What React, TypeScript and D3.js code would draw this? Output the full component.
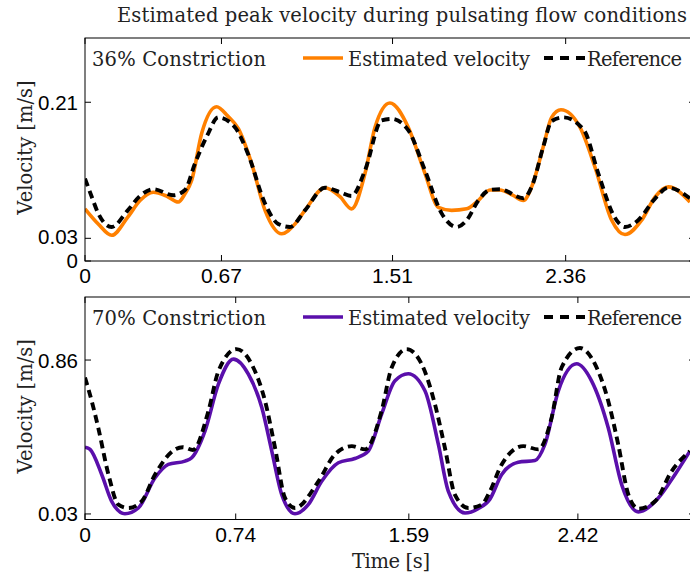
import React from "react";
import * as d3 from "d3";

// ---------- data ----------
const topTitle = "Estimated peak velocity during pulsating flow conditions";
const topLabel = "36% Constriction";
const bottomLabel = "70% Constriction";
const legendEstimated = "Estimated velocity";
const legendReference = "Reference";
const yAxisLabel = "Velocity [m/s]";
const xAxisLabel = "Time [s]";

const topXTicks = [0, 0.67, 1.51, 2.36];
const topYTicks = [0, 0.03, 0.21];
const bottomXTicks = [0, 0.74, 1.59, 2.42];
const bottomYTicks = [0.03, 0.86];

// 36% constriction
const topEstT = [0, 0.065, 0.131, 0.21, 0.27, 0.335, 0.4, 0.458, 0.491, 0.524, 0.573, 0.646, 0.7, 0.753, 0.818, 0.884, 0.966, 1.031, 1.08, 1.178, 1.252, 1.309, 1.375, 1.424, 1.497, 1.587, 1.669, 1.735, 1.8, 1.874, 1.931, 1.988, 2.037, 2.1, 2.152, 2.193, 2.25, 2.291, 2.337, 2.43, 2.504, 2.586, 2.651, 2.733, 2.8, 2.864, 2.97];
const topEstV = [0.069, 0.049, 0.034, 0.058, 0.08, 0.091, 0.086, 0.078, 0.089, 0.107, 0.169, 0.204, 0.192, 0.175, 0.129, 0.067, 0.036, 0.049, 0.067, 0.097, 0.085, 0.069, 0.116, 0.177, 0.209, 0.177, 0.116, 0.071, 0.067, 0.069, 0.08, 0.094, 0.094, 0.087, 0.08, 0.098, 0.151, 0.19, 0.2, 0.177, 0.124, 0.054, 0.035, 0.054, 0.085, 0.098, 0.078];
const topRefT = [0, 0.033, 0.065, 0.131, 0.21, 0.27, 0.335, 0.434, 0.491, 0.54, 0.6, 0.654, 0.736, 0.8, 0.884, 0.949, 1.006, 1.08, 1.178, 1.252, 1.309, 1.375, 1.456, 1.506, 1.587, 1.669, 1.751, 1.825, 1.874, 1.931, 1.988, 2.037, 2.152, 2.193, 2.25, 2.291, 2.348, 2.45, 2.52, 2.6, 2.651, 2.716, 2.8, 2.864, 2.97];
const topRefV = [0.109, 0.085, 0.063, 0.045, 0.067, 0.086, 0.095, 0.087, 0.094, 0.129, 0.166, 0.19, 0.177, 0.142, 0.076, 0.049, 0.045, 0.067, 0.097, 0.091, 0.086, 0.12, 0.186, 0.188, 0.173, 0.12, 0.063, 0.045, 0.054, 0.08, 0.094, 0.095, 0.083, 0.098, 0.151, 0.185, 0.19, 0.173, 0.116, 0.058, 0.045, 0.054, 0.083, 0.097, 0.083];

// 70% constriction
const botEstT = [0, 0.025, 0.082, 0.131, 0.196, 0.262, 0.344, 0.409, 0.491, 0.524, 0.589, 0.655, 0.729, 0.802, 0.868, 0.917, 0.966, 1.031, 1.096, 1.162, 1.244, 1.325, 1.391, 1.456, 1.522, 1.587, 1.669, 1.735, 1.784, 1.866, 1.93, 1.988, 2.046, 2.127, 2.209, 2.258, 2.324, 2.414, 2.487, 2.569, 2.635, 2.717, 2.815, 2.897, 2.97];
const botEstV = [0.39, 0.378, 0.243, 0.098, 0.031, 0.062, 0.225, 0.297, 0.315, 0.333, 0.477, 0.73, 0.865, 0.784, 0.604, 0.369, 0.134, 0.031, 0.08, 0.206, 0.306, 0.329, 0.369, 0.567, 0.748, 0.786, 0.694, 0.405, 0.152, 0.035, 0.058, 0.11, 0.243, 0.309, 0.318, 0.405, 0.694, 0.84, 0.748, 0.495, 0.188, 0.041, 0.116, 0.243, 0.369];
const botRefT = [0, 0.033, 0.065, 0.115, 0.164, 0.213, 0.278, 0.344, 0.442, 0.48, 0.53, 0.606, 0.655, 0.744, 0.818, 0.884, 0.933, 0.982, 1.031, 1.146, 1.227, 1.31, 1.375, 1.456, 1.506, 1.579, 1.653, 1.718, 1.767, 1.816, 1.882, 1.948, 1.988, 2.046, 2.152, 2.226, 2.291, 2.34, 2.43, 2.504, 2.569, 2.618, 2.668, 2.717, 2.799, 2.88, 2.97];
const botRefV = [0.766, 0.639, 0.495, 0.243, 0.08, 0.062, 0.098, 0.243, 0.378, 0.39, 0.375, 0.585, 0.8, 0.919, 0.838, 0.639, 0.387, 0.116, 0.062, 0.206, 0.351, 0.396, 0.378, 0.585, 0.82, 0.919, 0.838, 0.622, 0.387, 0.134, 0.062, 0.08, 0.152, 0.297, 0.396, 0.378, 0.549, 0.82, 0.925, 0.838, 0.639, 0.405, 0.134, 0.058, 0.098, 0.26, 0.369];

const ORANGE = "#ff8000";
const PURPLE = "#5a0fab";
const SERIF = "'DejaVu Serif', serif";
const SANS = "'Liberation Sans', Arial, sans-serif";

const W = 690;
const H = 574;
const LEFT = 85;
const RIGHT = 695;
const TICK = 6;

type PanelProps = {
  top: number;
  bottom: number;
  yMax: number;
  xTicks: number[];
  yTicks: number[];
  yLabelNudge?: number[];
  estT: number[];
  estV: number[];
  refT: number[];
  refV: number[];
  color: string;
  label: string;
  id: string;
};

function Panel(p: PanelProps) {
  const x = d3.scaleLinear().domain([0, 2.995]).range([LEFT, RIGHT]);
  const y = d3.scaleLinear().domain([0, p.yMax]).range([p.bottom, p.top]);
  const line = d3
    .line<[number, number]>()
    .x((d) => x(d[0]))
    .y((d) => y(d[1]))
    .curve(d3.curveMonotoneX);
  const est = line(p.estT.map((t, i) => [t, p.estV[i]] as [number, number])) || "";
  const ref = line(p.refT.map((t, i) => [t, p.refV[i]] as [number, number])) || "";
  const legY = p.top + 20;
  const textY = p.top + 28;
  return (
    <g>
      <defs>
        <clipPath id={p.id}>
          <rect x={LEFT} y={p.top} width={RIGHT - LEFT} height={p.bottom - p.top} />
        </clipPath>
      </defs>
      <g clipPath={`url(#${p.id})`}>
        <path d={est} fill="none" stroke={p.color} strokeWidth={3.6} />
        <path d={ref} fill="none" stroke="#000" strokeWidth={3.9} strokeDasharray="8,5" />
      </g>
      <rect x={LEFT} y={p.top} width={RIGHT - LEFT} height={p.bottom - p.top} fill="none" stroke="#000" strokeWidth={1} />
      {p.xTicks.map((t) => (
        <g key={"xt" + t}>
          <line x1={x(t)} x2={x(t)} y1={p.bottom} y2={p.bottom - TICK} stroke="#000" />
          <line x1={x(t)} x2={x(t)} y1={p.top} y2={p.top + TICK} stroke="#000" />
          <text x={x(t)} y={p.bottom + 22} textAnchor="middle" fontFamily={SANS} fontSize={21} fill="#000">
            {String(t)}
          </text>
        </g>
      ))}
      {p.yTicks.map((v, i) => (
        <g key={"yt" + v}>
          <line x1={LEFT} x2={LEFT + TICK} y1={y(v)} y2={y(v)} stroke="#000" />
          <line x1={RIGHT} x2={RIGHT - TICK} y1={y(v)} y2={y(v)} stroke="#000" />
          <text
            x={LEFT - 7}
            y={y(v) + 7.5 + (p.yLabelNudge ? p.yLabelNudge[i] : 0)}
            textAnchor="end"
            fontFamily={SANS}
            fontSize={20.5}
            fill="#000"
          >
            {String(v)}
          </text>
        </g>
      ))}
      <text x={92} y={textY} fontFamily={SERIF} fontSize={19.5} fill="#222" textLength={174}>
        {p.label}
      </text>
      <line x1={303} x2={343} y1={legY} y2={legY} stroke={p.color} strokeWidth={3.6} />
      <text x={348} y={textY} fontFamily={SERIF} fontSize={19.5} fill="#222" textLength={182}>
        {legendEstimated}
      </text>
      <line x1={544} x2={585} y1={legY} y2={legY} stroke="#000" strokeWidth={3.9} strokeDasharray="9,7" />
      <text x={587} y={textY} fontFamily={SERIF} fontSize={19.5} fill="#222" textLength={95}>
        {legendReference}
      </text>
      <text
        transform={`translate(31.5, ${(p.top + p.bottom) / 2 - 2}) rotate(-90)`}
        textAnchor="middle"
        fontFamily={SERIF}
        fontSize={19.5}
        fill="#222"
      >
        {yAxisLabel}
      </text>
    </g>
  );
}

export default function App() {
  return (
    <svg
      width={W}
      height={H}
      viewBox={`0 0 ${W} ${H}`}
      style={{ position: "absolute", left: 0, top: 0, background: "#fff" }}
    >
      <rect x={0} y={0} width={W} height={H} fill="#fff" />
      <text x={117} y={22} fontFamily={SERIF} fontSize={19.5} fill="#222" textLength={570}>
        {topTitle}
      </text>
      <Panel
        id="clipTop"
        top={38}
        bottom={261}
        yMax={0.295}
        xTicks={topXTicks}
        yTicks={topYTicks}
        yLabelNudge={[-0.5, -1.8, 0]}
        estT={topEstT}
        estV={topEstV}
        refT={topRefT}
        refV={topRefV}
        color={ORANGE}
        label={topLabel}
      />
      <Panel
        id="clipBot"
        top={297}
        bottom={519.5}
        yMax={1.2}
        xTicks={bottomXTicks}
        yTicks={bottomYTicks}
        estT={botEstT}
        estV={botEstV}
        refT={botRefT}
        refV={botRefV}
        color={PURPLE}
        label={bottomLabel}
      />
      <text x={352} y={568} fontFamily={SERIF} fontSize={19.5} fill="#222" textLength={78}>
        {xAxisLabel}
      </text>
    </svg>
  );
}
